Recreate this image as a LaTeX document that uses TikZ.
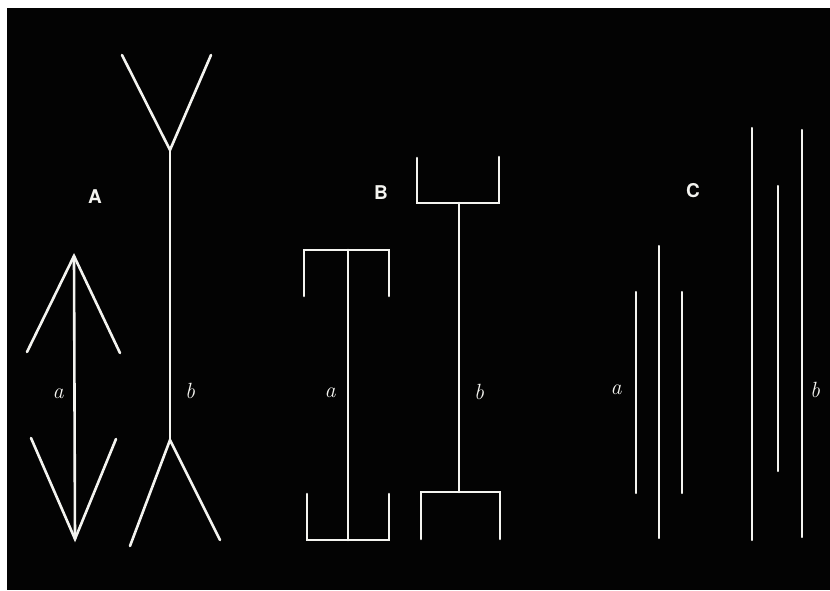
\documentclass[tikz,border=0pt]{standalone}
\usepackage{fontspec}
\usepackage{tikz}
\newfontfamily\platefont{TeX Gyre Heros}
\definecolor{plate}{HTML}{030303}
\definecolor{chalk}{HTML}{F4F4F0}

\begin{document}
\begin{tikzpicture}[x=1pt,y=-1pt,
  fig/.style={color=chalk,line width=2.6pt,line cap=round,line join=miter},
  thin/.style={color=chalk,line width=2.1pt,line cap=round},
  part/.style={text=chalk,font=\platefont\bfseries\fontsize{19}{19}\selectfont},
  lbl/.style={text=chalk,font=\fontsize{22}{22}\selectfont\itshape}]
  \fill[white] (0,0) rectangle (830,590);
  \fill[plate] (7,8) rectangle (830,590);

  % A: arrow-heads and tails
  \node[part] (pa) at (95,197) {A};
  \draw[fig] (27,352) -- (74,256) -- (120,353);
  \draw[fig] (74,256) -- (75,539);
  \draw[fig] (31,438) -- (75,539) -- (116,439);
  \node[lbl] (la) at (58,394) {a};
  \draw[fig] (122,55) -- (170,150) -- (211,55);
  \draw[fig] (170,150) -- (170,440);
  \draw[fig] (130,546) -- (170,440) -- (220,540);
  \node[lbl] (lb) at (190,391) {b};

  % B: brackets
  \node[part] (pb) at (381,193) {B};
  \draw[fig] (304,296) -- (304,250) -- (389,250) -- (389,296);
  \draw[fig] (348,250) -- (348,540);
  \draw[fig] (307,494) -- (307,540) -- (389,540) -- (389,494);
  \node[lbl] (ma) at (330,393) {a};
  \draw[fig] (417,158) -- (417,203) -- (499,203) -- (499,157);
  \draw[fig] (459,203) -- (459,492);
  \draw[fig] (421,539) -- (421,492) -- (500,492) -- (500,539);
  \node[lbl] (mb) at (479,392) {b};

  % C: flanking lines
  \node[part] (pc) at (693,191) {C};
  \foreach \x/\t/\b in {636/292/493,659/246/538,682/292/493}
    \draw[thin] (\x,\t) -- (\x,\b);
  \node[lbl] (ra) at (616,390) {a};
  \foreach \x/\t/\b in {752/128/540,778/186/471,802/130/537}
    \draw[thin] (\x,\t) -- (\x,\b);
  \node[lbl] (rb) at (815,390) {b};
\end{tikzpicture}
\end{document}
